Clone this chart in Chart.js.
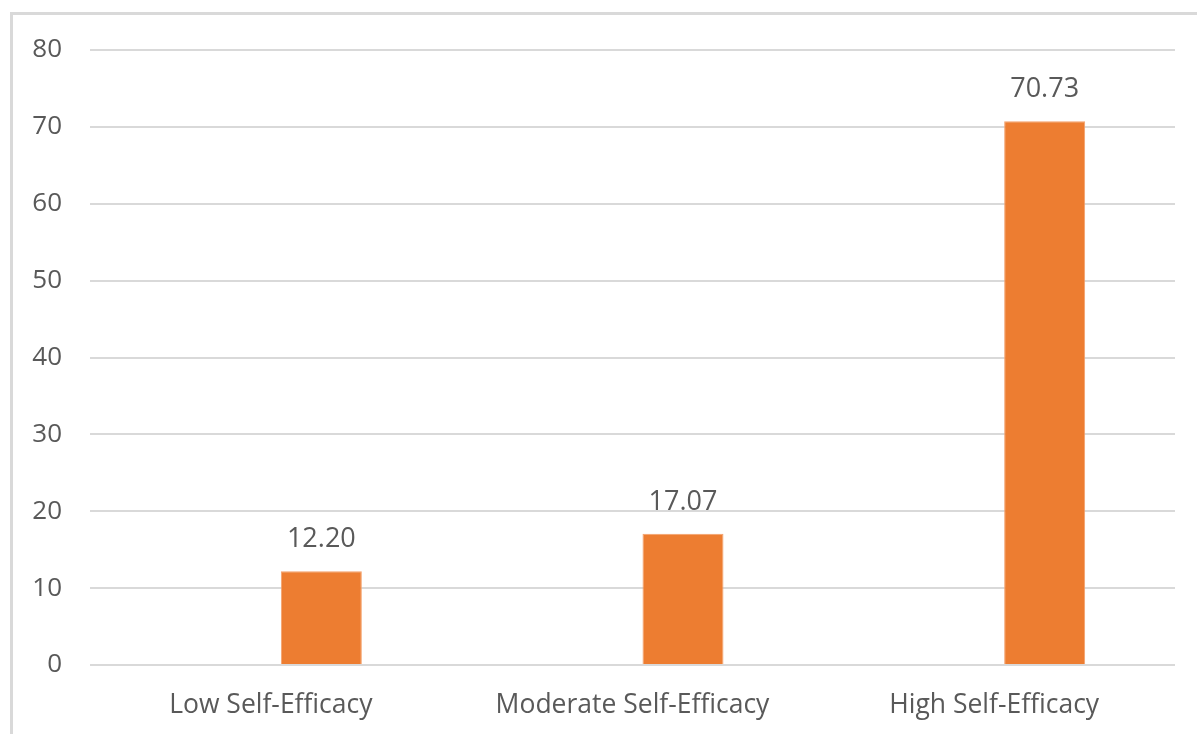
<!DOCTYPE html>
<html>
<head>
<meta charset="utf-8">
<script src="https://cdn.jsdelivr.net/npm/chart.js@4/dist/chart.umd.min.js"></script>
<style>
  html, body { margin: 0; padding: 0; background: #ffffff; }
  #frame {
    position: absolute; left: 10px; top: 12px; width: 1250px; height: 800px;
    border-left: 3px solid #d9d9d9; border-top: 3px solid #d9d9d9;
  }
  #wrap { position: absolute; left: 0; top: 0; width: 1197px; height: 734px; }
</style>
</head>
<body>
<div id="frame"></div>
<div id="wrap"><canvas id="chart" width="1197" height="734"></canvas></div>
<script>
// Percentage of respondents by self-efficacy level
const categories = ['Low Self-Efficacy', 'Moderate Self-Efficacy', 'High Self-Efficacy'];
const percentValues = [12.20, 17.07, 70.73];
// empty companion series that reserves the left slot of each group
const emptySeries = [null, null, null];
const yTicks = [0, 10, 20, 30, 40, 50, 60, 70, 80];

const FONT = "'Open Sans', 'Liberation Sans', sans-serif";
const TEXT = '#595959';
const GRID = '#d9d9d9';
const BAR = '#ED7D31';

const valueLabels = {
  id: 'valueLabels',
  afterDatasetsDraw(chart) {
    const ctx = chart.ctx;
    const meta = chart.getDatasetMeta(1);
    ctx.save();
    ctx.font = '27px ' + FONT;
    ctx.fillStyle = TEXT;
    ctx.textAlign = 'center';
    ctx.textBaseline = 'middle';
    meta.data.forEach((bar, i) => {
      ctx.fillText(percentValues[i].toFixed(2), bar.x, bar.y - 31.5);
    });
    ctx.restore();
  }
};

new Chart(document.getElementById('chart'), {
  type: 'bar',
  data: {
    labels: categories,
    datasets: [
      { label: '', data: emptySeries, backgroundColor: 'rgba(0,0,0,0)' },
      {
        label: 'Percent',
        data: percentValues,
        backgroundColor: BAR,
        borderColor: '#F4A06A',
        borderWidth: 1
      }
    ]
  },
  options: {
    responsive: false,
    animation: false,
    categoryPercentage: 0.5585,
    barPercentage: 0.802,
    layout: { padding: { left: 0, right: 22, top: 50, bottom: 0 } },
    plugins: {
      legend: { display: false },
      tooltip: { enabled: false }
    },
    scales: {
      x: {
        grid: { display: false, drawTicks: false },
        border: { display: false },
        ticks: {
          color: TEXT,
          font: { family: FONT, size: 26.5 },
          padding: 25,
          maxRotation: 0
        },
        afterFit(scale) { scale.height = 69; }
      },
      y: {
        min: 0,
        max: 80,
        afterBuildTicks(scale) { scale.ticks = yTicks.map(v => ({ value: v })); },
        grid: { color: GRID, lineWidth: 2, drawTicks: false },
        border: { display: false },
        ticks: {
          color: TEXT,
          font: { family: FONT, size: 26 },
          padding: 28
        },
        afterFit(scale) { scale.width = 90; }
      }
    }
  },
  plugins: [valueLabels]
});
</script>
</body>
</html>
